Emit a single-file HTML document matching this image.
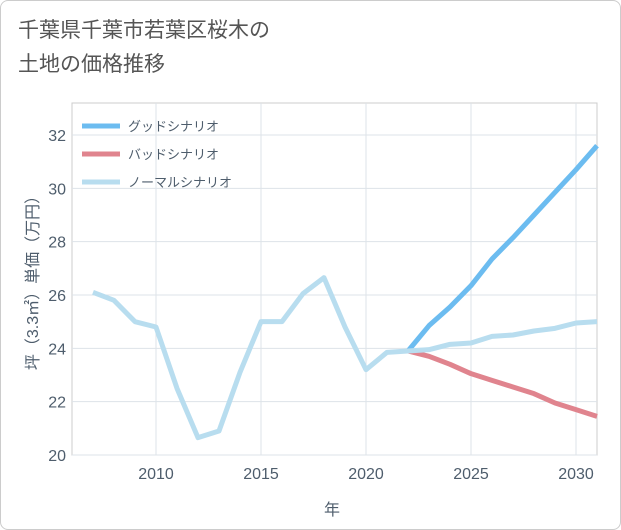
<!DOCTYPE html>
<html><head><meta charset="utf-8">
<style>
body{margin:0;background:#fff;}
#wrap{position:relative;width:621px;height:530px;font-family:"Liberation Sans","Noto Sans CJK JP",sans-serif;}
#frame{position:absolute;left:0;top:0;width:619px;height:528px;border:1px solid #ccc;border-radius:8px;background:#fff;}
#title{position:absolute;left:18px;top:14px;font-size:21px;line-height:34px;color:#555;}
</style></head><body>
<div id="wrap">
<div id="frame"></div>
<div id="title">千葉県千葉市若葉区桜木の<br>土地の価格推移</div>
<svg id="chart" width="621" height="530" style="position:absolute;left:0;top:0"></svg>
</div>
<script>
const years=[2007,2008,2009,2010,2011,2012,2013,2014,2015,2016,2017,2018,2019,2020,2021,2022,2023,2024,2025,2026,2027,2028,2029,2030,2031];
const normalVals=[26.1,25.8,25.0,24.8,22.5,20.65,20.9,23.1,25.0,25.0,26.05,26.65,24.8,23.2,23.85,23.9,23.95,24.15,24.2,24.45,24.5,24.65,24.75,24.95,25.0];
const futureYears=[2022,2023,2024,2025,2026,2027,2028,2029,2030,2031];
const goodVals=[23.9,24.85,25.55,26.35,27.35,28.15,29.0,29.85,30.7,31.6];
const badVals=[23.9,23.7,23.4,23.05,22.8,22.55,22.3,21.95,21.7,21.45];
const xTicks=[2010,2015,2020,2025,2030];
const yTicks=[20,22,24,26,28,30,32];
const legendLabels=["グッドシナリオ","バッドシナリオ","ノーマルシナリオ"];
const svg=document.getElementById('chart');
const NS="http://www.w3.org/2000/svg";
const L=72,R=597,T=103,B=455;
const TC='#4e5d6c';
const xs=y=>L+(y-2006)*(R-L)/25;
const ys=v=>B-(v-20)*(B-135)/12;
function mk(tag,attrs,txt){const e=document.createElementNS(NS,tag);for(const k in attrs)e.setAttribute(k,attrs[k]);if(txt!==undefined)e.textContent=txt;svg.appendChild(e);return e;}
let e=mk('rect',{x:L,y:T,width:R-L,height:B-T,fill:'#fff',stroke:'#ccc'});

yTicks.forEach(v=>{
 let g=mk('line',{x1:L,x2:R,y1:ys(v),y2:ys(v),stroke:'#dde3e8'});
 
 let t=mk('text',{x:L-6,y:ys(v)+6,'text-anchor':'end','font-size':16,fill:TC},v);
 
});
xTicks.forEach(v=>{
 let g=mk('line',{x1:xs(v),x2:xs(v),y1:T,y2:B,stroke:'#dde3e8'});
 
 let t=mk('text',{x:xs(v),y:B+24,'text-anchor':'middle','font-size':16,fill:TC},v);
 
});
e=mk('text',{x:332,y:515,'text-anchor':'middle','font-size':16,fill:TC},'年');

e=mk('text',{x:0,y:0,'text-anchor':'middle','font-size':16,fill:TC,transform:'translate(38,279) rotate(-90)'},'坪（3.3㎡）単価（万円）');

function line(xv,vals,color,name){
 const d=xv.map((y,i)=>(i?'L':'M')+xs(y)+','+ys(vals[i])).join('');
 let p=mk('path',{d:d,fill:'none',stroke:color,'stroke-width':5,'stroke-linejoin':'round'});
 
}
line(futureYears,goodVals,'#6cbcf0','good-scenario-line');
line(futureYears,badVals,'#e0848e','bad-scenario-line');
line(years,normalVals,'#b8ddef','normal-scenario-line');
const lc=['#6cbcf0','#e0848e','#b8ddef'];
legendLabels.forEach((s,i)=>{
 const y=126+i*28;
 let l=mk('line',{x1:82,x2:120,y1:y,y2:y,stroke:lc[i],'stroke-width':5});
 
 let t=mk('text',{x:128,y:y+5,'font-size':13,fill:TC},s);
 
});
</script>
</body></html>
